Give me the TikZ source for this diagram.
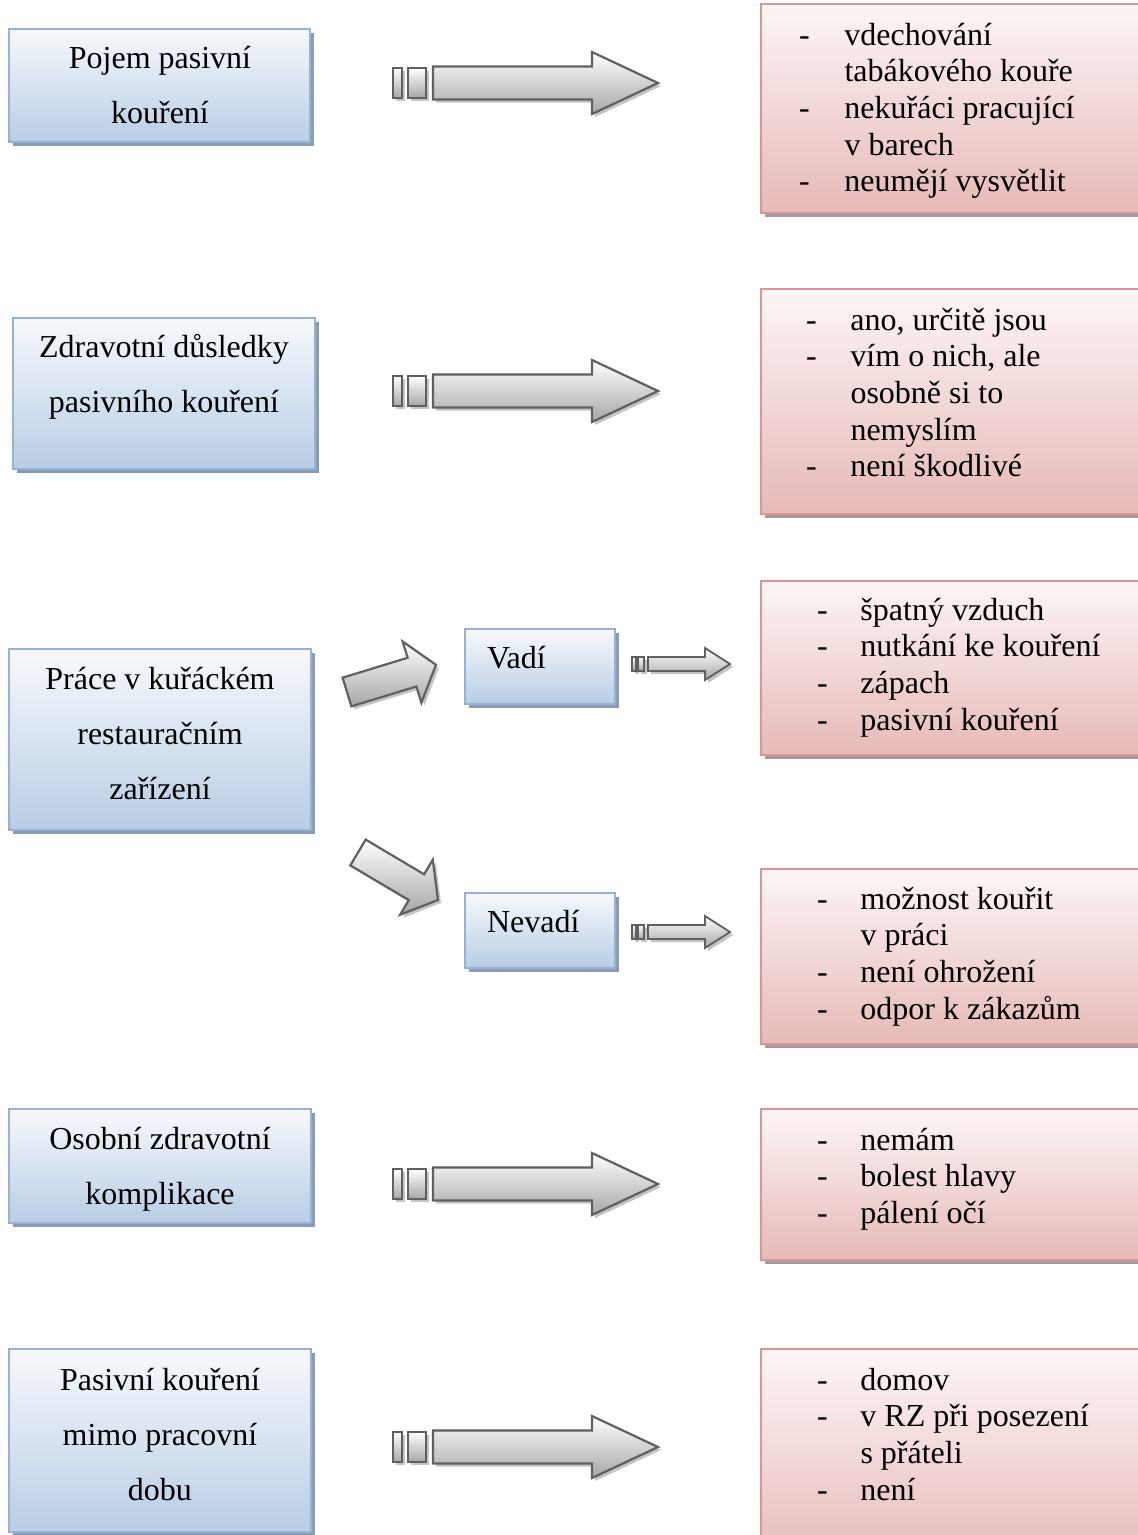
\documentclass[tikz,border=0pt]{standalone}
\usepackage{fontspec}
\setmainfont{Liberation Serif}
\definecolor{bluetop}{HTML}{F7F9FC}
\definecolor{bluebot}{HTML}{B9CDE5}
\definecolor{blueedge}{HTML}{95B3D7}
\definecolor{blueshade}{HTML}{8A9BB3}
\definecolor{pinktop}{HTML}{FDF6F6}
\definecolor{pinkbot}{HTML}{E6B9B8}
\definecolor{pinkedge}{HTML}{D99694}
\definecolor{pinkshade}{HTML}{A89898}
\definecolor{arredge}{HTML}{606060}
\definecolor{arrbot}{HTML}{A6A6A6}
\definecolor{arrshade}{HTML}{C4C4C4}
\newlength\dashw
\newcommand\itemdash{\makebox[\dashw][l]{-}}
\newcommand\itemcont{\hspace*{\dashw}}
\tikzset{
  bluebox/.style={draw=blueedge, line width=2.4pt, top color=bluetop, bottom color=bluebot,
    inner sep=0pt, outer sep=0pt, anchor=north west,
    preaction={fill=blueshade, transform canvas={shift={(3.5pt,-3.5pt)}}}},
  pinkbox/.style={draw=pinkedge, line width=2.4pt, top color=pinktop, bottom color=pinkbot,
    inner sep=0pt, outer sep=0pt, anchor=north west,
    preaction={fill=pinkshade, transform canvas={shift={(3.5pt,-3.5pt)}}}},
  textL/.style={font=\fontsize{32}{55}\selectfont, align=center, inner sep=0pt, outer sep=0pt, anchor=north},
  textR/.style={font=\fontsize{32}{36.7}\selectfont, align=left, inner sep=0pt, outer sep=0pt, anchor=north west},
  textS/.style={font=\fontsize{32}{36.7}\selectfont, inner sep=0pt, outer sep=0pt, anchor=base west},
  arrsty/.style={draw=arredge, line width=2.2pt, line join=miter, top color=white, bottom color=arrbot,
    preaction={fill=arrshade, transform canvas={shift={(3pt,-3pt)}}}},
  bigarrow/.pic={
    \path[arrsty] (1,-15) rectangle (10,15);
    \path[arrsty] (16,-15) rectangle (34,15);
    \path[arrsty] (41,-16.5) -- (200,-16.5) -- (200,-31) -- (266,0) -- (200,31) -- (200,16.5) -- (41,16.5) -- cycle;
  },
  smallarrow/.pic={
    \path[arrsty, line width=1.6pt] (0,-7) rectangle (4,7);
    \path[arrsty, line width=1.6pt] (6,-7) rectangle (12,7);
    \path[arrsty, line width=1.8pt] (16,-7) -- (73,-7) -- (73,-16) -- (98,0) -- (73,16) -- (73,7) -- (16,7) -- cycle;
  },
  diagarrow/.pic={
    \path[arrsty] (0,-15) -- (68,-15) -- (68,-32) -- (93,0) -- (68,32) -- (68,15) -- (0,15) -- cycle;
  },
}
\begin{document}
\begin{tikzpicture}[x=1pt,y=-1pt]
\useasboundingbox[fill=white] (0,0) rectangle (1138,1535);

% left boxes
\node[bluebox, minimum width=301pt, minimum height=113pt] (b1) at (9,29) {};
\node[bluebox, minimum width=302pt, minimum height=151pt] (b2) at (13,318) {};
\node[bluebox, minimum width=302pt, minimum height=181pt] (b3) at (9,649) {};
\node[bluebox, minimum width=302pt, minimum height=114pt] (b4) at (9,1109) {};
\node[bluebox, minimum width=302pt, minimum height=183pt] (b5) at (9,1349) {};
\node[bluebox, minimum width=150pt, minimum height=75pt] (bv) at (465,629) {};
\node[bluebox, minimum width=150pt, minimum height=75pt] (bn) at (465,893) {};

% right boxes
\node[pinkbox, minimum width=395pt, minimum height=209pt] (r1) at (761,4) {};
\node[pinkbox, minimum width=395pt, minimum height=225pt] (r2) at (761,289) {};
\node[pinkbox, minimum width=395pt, minimum height=174pt] (r3) at (761,581) {};
\node[pinkbox, minimum width=395pt, minimum height=175pt] (r4) at (761,869) {};
\node[pinkbox, minimum width=395pt, minimum height=151pt] (r5) at (761,1109) {};
\node[pinkbox, minimum width=395pt, minimum height=220pt] (r6) at (761,1349) {};

% left texts
\node[textL] (t1) at (160,68-38.5) {\strut Pojem pasivní\\kouření};
\node[textL] (t2) at (164,357-38.5) {\strut Zdravotní důsledky\\pasivního kouření};
\node[textL] (t3) at (160,689-38.5) {\strut Práce v kuřáckém\\restauračním\\zařízení};
\node[textL] (t4) at (160,1149-38.5) {\strut Osobní zdravotní\\komplikace};
\node[textL] (t5) at (160,1390-38.5) {\strut Pasivní kouření\\mimo pracovní\\dobu};
\node[textS] (tv) at (487,668) {Vadí};
\node[textS] (tn) at (487,932) {Nevadí};

% right texts
\setlength\dashw{45.5pt}
\node[textR] (s1) at (799,45-25.69) {\strut\itemdash vdechování\\\itemcont tabákového kouře\\\itemdash nekuřáci pracující\\\itemcont v barech\\\itemdash neumějí vysvětlit};
\setlength\dashw{44.5pt}
\node[textR] (s2) at (806,330-25.69) {\strut\itemdash ano, určitě jsou\\\itemdash vím o nich, ale\\\itemcont osobně si to\\\itemcont nemyslím\\\itemdash není škodlivé};
\setlength\dashw{43.5pt}
\node[textR] (s3) at (817,620-25.69) {\strut\itemdash špatný vzduch\\\itemdash nutkání ke kouření\\\itemdash zápach\\\itemdash pasivní kouření};
\node[textR] (s4) at (817,909-25.69) {\strut\itemdash možnost kouřit\\\itemcont v práci\\\itemdash není ohrožení\\\itemdash odpor k zákazům};
\node[textR] (s5) at (817,1150-25.69) {\strut\itemdash nemám\\\itemdash bolest hlavy\\\itemdash pálení očí};
\node[textR] (s6) at (817,1390-25.69) {\strut\itemdash domov\\\itemdash v RZ při posezení\\\itemcont s přáteli\\\itemdash není};

% arrows
\pic at (392,83) {bigarrow};
\pic at (392,391) {bigarrow};
\pic at (392,1184) {bigarrow};
\pic at (392,1447) {bigarrow};
\pic at (632,664) {smallarrow};
\pic at (632,932) {smallarrow};
\pic[rotate=17] at (347,692) {diagarrow};
\pic[rotate=-30.7] at (358,852.5) {diagarrow};
\end{tikzpicture}
\end{document}
